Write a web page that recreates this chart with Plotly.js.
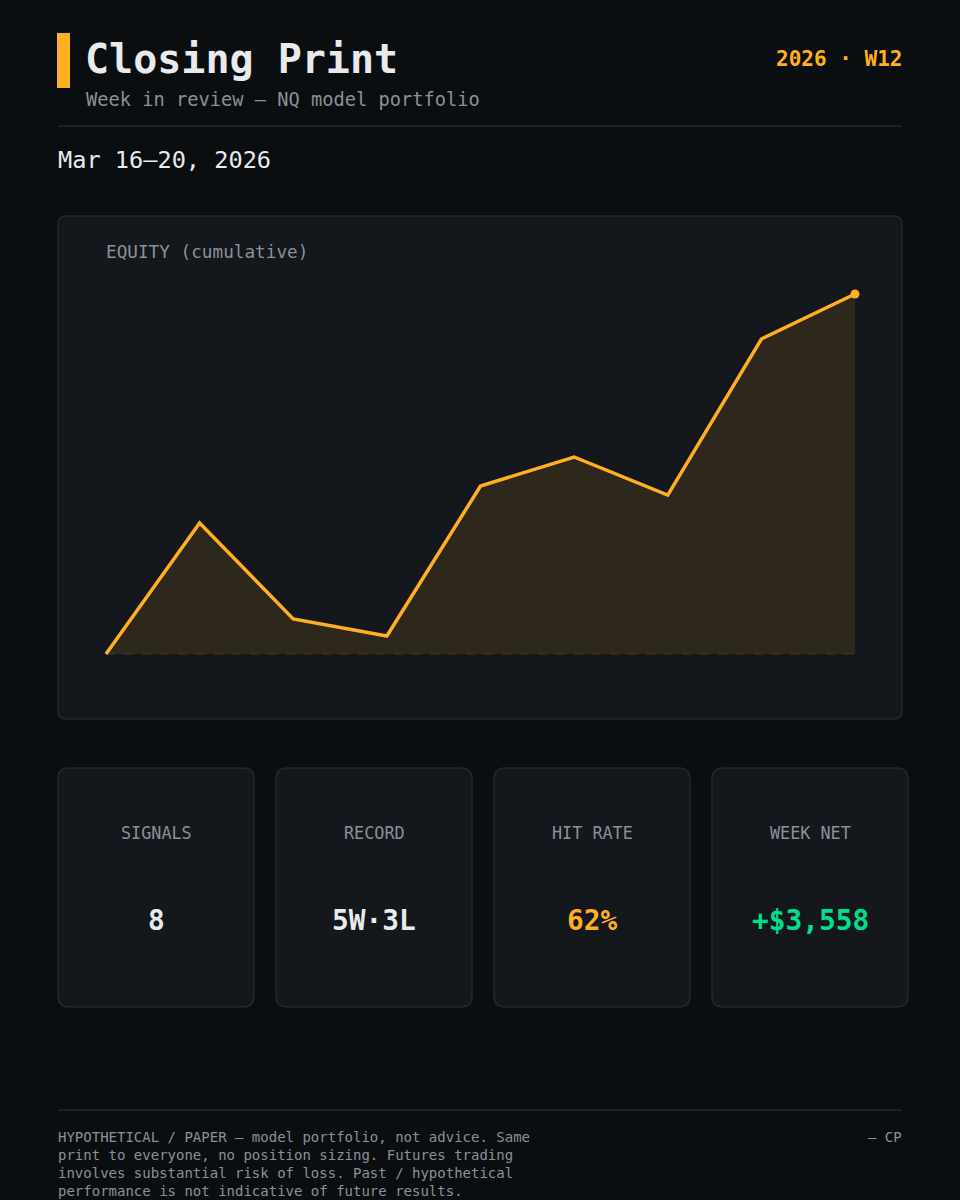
<!DOCTYPE html>
<html><head><meta charset="utf-8">
<script src="https://cdn.plot.ly/plotly-3.0.1.min.js"></script>
<style>html,body{margin:0;padding:0;background:#0b0e11;}#chart{width:960px;height:1200px;}</style>
</head><body><div id="chart"></div>
<script>
// ---- data ----
const signalIndex = [0, 1, 2, 3, 4, 5, 6, 7, 8];
const equity = [0, 1295, 346, 178, 1660, 1947, 1571, 3113, 3558];
const statLabels = ["SIGNALS", "RECORD", "HIT RATE", "WEEK NET"];
const statValues = ["8", "5W·3L", "62%", "+$3,558"];
const footerLines = [
  "HYPOTHETICAL / PAPER — model portfolio, not advice. Same",
  "print to everyone, no position sizing. Futures trading",
  "involves substantial risk of loss. Past / hypothetical",
  "performance is not indicative of future results."
];

const W = 960, H = 1200;
const FONT = "DejaVu Sans Mono, monospace";
const AMBER = "#ffb020", GREEN = "#00e08a", GRAY = "#8b9099", WHITE = "#e8eaed";
const BG = "#0b0e11", PANEL = "#14171c", BORDER = "#23272e";

const px = x => x / W;
const py = y => 1 - y / H;

function roundRect(x0, y0, x1, y1, r) {
  const X = v => px(v).toFixed(5), Y = v => py(v).toFixed(5);
  return `M${X(x0+r)},${Y(y0)} L${X(x1-r)},${Y(y0)} Q${X(x1)},${Y(y0)} ${X(x1)},${Y(y0+r)} ` +
    `L${X(x1)},${Y(y1-r)} Q${X(x1)},${Y(y1)} ${X(x1-r)},${Y(y1)} L${X(x0+r)},${Y(y1)} ` +
    `Q${X(x0)},${Y(y1)} ${X(x0)},${Y(y1-r)} L${X(x0)},${Y(y0+r)} Q${X(x0)},${Y(y0)} ${X(x0+r)},${Y(y0)} Z`;
}

// plot geometry: first point at px 106, last at 855; zero at py 654, max at py 294
const xStart = 106, xEnd = 855, yZero = 654, yTop = 294;
const n = signalIndex.length - 1;
const maxV = Math.max(...equity);
const xPerUnit = (xEnd - xStart) / n;
const yPerUnit = (yZero - yTop) / maxV;
const domX0 = 80, domX1 = 880, domY0 = 260, domY1 = 700; // px
const xRange = [(domX0 - xStart) / xPerUnit, (domX1 - xStart) / xPerUnit];
const yRange = [(yZero - domY1) / yPerUnit, (yZero - domY0) / yPerUnit];

const shapes = [];
shapes.push({type: "rect", xref: "paper", yref: "paper", x0: px(57), x1: px(70), y0: py(88), y1: py(33), fillcolor: AMBER, line: {width: 0}, layer: "below"});
shapes.push({type: "line", xref: "paper", yref: "paper", x0: px(58), x1: px(902), y0: py(126), y1: py(126), line: {color: BORDER, width: 1.5}, layer: "below"});
shapes.push({type: "path", xref: "paper", yref: "paper", path: roundRect(58, 216, 902, 719, 8), fillcolor: PANEL, line: {color: BORDER, width: 1.5}, layer: "below"});
const cardX = [58, 276, 494, 712];
cardX.forEach(x => shapes.push({type: "path", xref: "paper", yref: "paper", path: roundRect(x, 768, x + 196, 1007, 11), fillcolor: PANEL, line: {color: BORDER, width: 1.5}, layer: "below"}));
shapes.push({type: "line", xref: "paper", yref: "paper", x0: px(58), x1: px(902), y0: py(1110), y1: py(1110), line: {color: BORDER, width: 1.5}, layer: "below"});
shapes.push({type: "line", xref: "x", yref: "y", x0: signalIndex[0], x1: signalIndex[n], y0: 0, y1: 0, line: {color: "rgba(255,176,32,0.18)", width: 1.2, dash: "dash"}, layer: "above"});

const ann = [];
function txt(text, x, y, size, color, opts = {}) {
  ann.push(Object.assign({text, x: px(x), y: py(y), xref: "paper", yref: "paper", showarrow: false,
    xanchor: "left", yanchor: "middle", font: {family: FONT, size, color}}, opts));
}
txt("<b>Closing Print</b>", 83, 59, 40, WHITE);
txt("Week in review — NQ model portfolio", 84, 99, 18.7, GRAY);
txt("<b>2026 · W12</b>", 904, 59, 21, AMBER, {xanchor: "right"});
txt("Mar 16–20, 2026", 56, 160, 23.6, WHITE);
txt("EQUITY (cumulative)", 104, 252, 17.7, GRAY);
const valColors = [WHITE, WHITE, AMBER, GREEN];
cardX.forEach((x, i) => {
  txt(statLabels[i], x + 98, 833, 16.8, GRAY, {xanchor: "center"});
  txt("<b>" + statValues[i] + "</b>", x + 98, 920, 27.8, valColors[i], {xanchor: "center"});
});
footerLines.forEach((l, i) => txt(l, 56, 1137 + i * 18, 14, GRAY));
txt("— CP", 904, 1137, 14, GRAY, {xanchor: "right"});

const traces = [
  {x: signalIndex, y: equity, type: "scatter", mode: "lines", fill: "tozeroy",
   fillcolor: "rgba(255,176,32,0.11)", line: {color: AMBER, width: 3.5}, hoverinfo: "skip", cliponaxis: false},
  {x: [signalIndex[n]], y: [equity[n]], type: "scatter", mode: "markers",
   marker: {color: AMBER, size: 9}, hoverinfo: "skip", cliponaxis: false}
];

const layout = {
  width: W, height: H, margin: {l: 0, r: 0, t: 0, b: 0},
  paper_bgcolor: BG, plot_bgcolor: "rgba(0,0,0,0)", showlegend: false,
  xaxis: {domain: [px(domX0), px(domX1)], range: xRange, visible: false, fixedrange: true},
  yaxis: {domain: [py(domY1), py(domY0)], range: yRange, visible: false, fixedrange: true},
  shapes, annotations: ann, font: {family: FONT}
};
Plotly.newPlot("chart", traces, layout, {displayModeBar: false, staticPlot: true});
</script></body></html>
